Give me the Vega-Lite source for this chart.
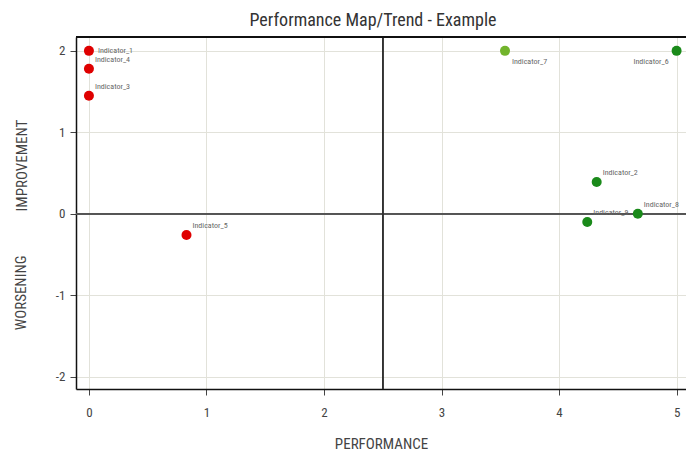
{
  "$schema": "https://vega.github.io/schema/vega-lite/v6.json",
  "autosize": {"type": "none"},
  "padding": {"left": 76, "top": 37, "right": 0, "bottom": 63},
  "width": 610,
  "height": 352,
  "title": {"text": "Performance Map/Trend - Example", "fontSize": 18, "fontWeight": "normal", "color": "#333", "offset": 6, "dx": -8},
  "config": {
    "font": "Roboto Condensed, Liberation Sans Narrow, DejaVu Sans Condensed, Roboto",
    "view": {"stroke": null},
    "axis": {
      "grid": true, "gridColor": "#e2e2da", "gridWidth": 1,
      "domainColor": "#111", "domainWidth": 1.5,
      "tickColor": "#444", "tickSize": 6, "tickWidth": 1,
      "labelColor": "#444", "labelFontSize": 13,
      "titleColor": "#444", "titleFontSize": 15, "titleFontWeight": "normal",
      "labelExpr": "'' + datum.value"
    }
  },
  "data": {"values": [
    {"name": "Indicator_1", "performance": 0.0, "trend": 2.0, "status": "red"},
    {"name": "Indicator_2", "performance": 4.32, "trend": 0.39, "status": "green"},
    {"name": "Indicator_3", "performance": 0.0, "trend": 1.45, "status": "red"},
    {"name": "Indicator_4", "performance": 0.0, "trend": 1.78, "status": "red"},
    {"name": "Indicator_5", "performance": 0.83, "trend": -0.26, "status": "red"},
    {"name": "Indicator_6", "performance": 5.0, "trend": 2.0, "status": "green"},
    {"name": "Indicator_7", "performance": 3.54, "trend": 2.0, "status": "lightgreen"},
    {"name": "Indicator_8", "performance": 4.67, "trend": 0.0, "status": "green"},
    {"name": "Indicator_9", "performance": 4.24, "trend": -0.1, "status": "green"}
  ]},
  "encoding": {
    "x": {"field": "performance", "type": "quantitative",
      "scale": {"domain": [-0.11, 5.08], "nice": false, "zero": false},
      "axis": {"title": "PERFORMANCE", "values": [0, 1, 2, 3, 4, 5], "labelPadding": 11, "titlePadding": 17}},
    "y": {"field": "trend", "type": "quantitative",
      "scale": {"domain": [-2.15, 2.17], "nice": false, "zero": false},
      "axis": {"title": "IMPROVEMENT", "values": [-2, -1, 0, 1, 2], "labelPadding": 5, "titleX": -55, "titleY": 128, "titleAnchor": null, "titleBaseline": "middle", "titleAlign": "center"}}
  },
  "layer": [
    {"mark": {"type": "rule", "color": "#555", "strokeWidth": 1}, "encoding": {"y": {"datum": 0}, "x": null}},
    {"mark": {"type": "rule", "color": "#333", "strokeWidth": 1}, "encoding": {"x": {"datum": 2.5}, "y": null}},
    {"mark": {"type": "rule", "color": "#111", "strokeWidth": 1.5}, "encoding": {"y": {"datum": 2.17}, "x": null}},
    {"mark": {"type": "circle", "size": 100, "opacity": 1},
      "encoding": {"color": {"field": "status", "type": "nominal", "legend": null,
        "scale": {"domain": ["red", "green", "lightgreen"], "range": ["#df0000", "#1a8a1a", "#72b42c"]}}}},
    {"transform": [{"filter": {"field": "name", "oneOf": ["Indicator_2", "Indicator_3", "Indicator_4", "Indicator_5", "Indicator_8", "Indicator_9"]}}],
      "mark": {"type": "text", "align": "left", "baseline": "middle", "dx": 6, "dy": -9, "fontSize": 8, "color": "#666"},
      "encoding": {"text": {"field": "name"}}},
    {"transform": [{"filter": {"field": "name", "equal": "Indicator_1"}}],
      "mark": {"type": "text", "align": "left", "baseline": "middle", "dx": 9, "dy": 0, "fontSize": 8, "color": "#666"},
      "encoding": {"text": {"field": "name"}}},
    {"transform": [{"filter": {"field": "name", "equal": "Indicator_7"}}],
      "mark": {"type": "text", "align": "left", "baseline": "middle", "dx": 7, "dy": 11, "fontSize": 8, "color": "#666"},
      "encoding": {"text": {"field": "name"}}},
    {"transform": [{"filter": {"field": "name", "equal": "Indicator_6"}}],
      "mark": {"type": "text", "align": "right", "baseline": "middle", "dx": -8, "dy": 11, "fontSize": 8, "color": "#666"},
      "encoding": {"text": {"field": "name"}}},
    {"data": {"values": [{"label": "WORSENING", "px": -0.11, "py": -0.97}]},
      "mark": {"type": "text", "angle": 270, "align": "center", "baseline": "middle", "dx": 0, "dy": -55, "fontSize": 15, "color": "#444"},
      "encoding": {"x": {"field": "px", "type": "quantitative"}, "y": {"field": "py", "type": "quantitative"}, "text": {"field": "label"}}}
  ]
}
